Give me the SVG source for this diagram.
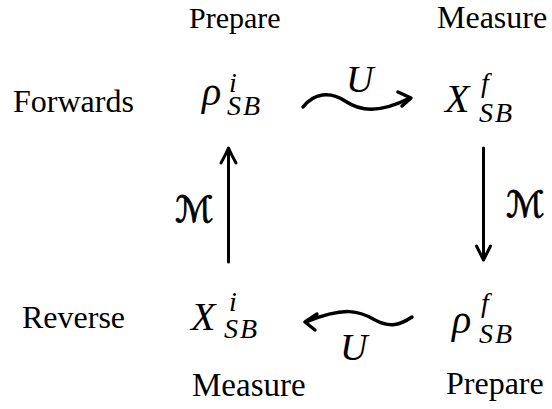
<svg xmlns="http://www.w3.org/2000/svg" width="552" height="409" viewBox="0 0 552 409">
<style>
.lbl{font-family:"Liberation Serif","Times New Roman",serif;fill:#000}
.mt{font-family:"Liberation Serif","Times New Roman",serif;font-style:italic;fill:#000}
.big{font-size:40px}
.sc{font-size:28px}
.cal{font-family:"DejaVu Serif","DejaVu Sans",serif;font-size:36px;fill:#000;stroke:#000;stroke-width:0.9}
.ln{stroke:#000;stroke-width:3;fill:none;stroke-linecap:round;stroke-linejoin:round}
.wv{stroke:#000;stroke-width:3.5;fill:none;stroke-linecap:round;stroke-linejoin:round}
</style>
<rect width="552" height="409" fill="#fff"/>
<g id="labels">
<text class="lbl" x="189" y="28" font-size="30">Prepare</text>
<text class="lbl" x="437" y="28" font-size="32">Measure</text>
<text class="lbl" x="13" y="112" font-size="32">Forwards</text>
<text class="lbl" x="22" y="328" font-size="32">Reverse</text>
<text class="lbl" x="192" y="396" font-size="33">Measure</text>
<text class="lbl" x="446" y="394" font-size="32">Prepare</text>
</g>
<g id="node-rho-i">
<text class="mt big" x="202" y="105">ρ</text>
<text class="mt sc" x="229" y="92">i</text>
<text class="mt sc" x="227" y="115" letter-spacing="2">SB</text>
</g>
<g id="node-X-f">
<text class="mt big" x="445" y="112">X</text>
<text class="mt sc" x="481" y="92">f</text>
<text class="mt sc" x="479" y="122" letter-spacing="2">SB</text>
</g>
<g id="node-X-i">
<text class="mt big" x="191" y="330">X</text>
<text class="mt sc" x="229" y="311">i</text>
<text class="mt sc" x="224" y="338" letter-spacing="2">SB</text>
</g>
<g id="node-rho-f">
<text class="mt big" x="452" y="333">ρ</text>
<text class="mt sc" x="481" y="312">f</text>
<text class="mt sc" x="479" y="343" letter-spacing="2">SB</text>
</g>
<g id="connectors">
<path class="wv" d="M303,107 C314,93 330,91 345,101 C360,111 378,114 410,98"/>
<path class="wv" d="M398,92 L411,98 L402,106"/>
<text class="mt" x="346" y="92" font-size="38">U</text>
<path class="wv" d="M412,317 C400,325 390,328 375,320 C360,311 345,306 306,322"/>
<path class="wv" d="M317,314 L305,322 L315,330"/>
<text class="mt" x="340" y="360" font-size="38">U</text>
<path class="ln" d="M228.5,262 L228.5,149"/>
<path class="ln" d="M221,163 Q225,156 228.5,148 Q232,156 236,163"/>
<text class="cal" x="175" y="222">ℳ</text>
<path class="ln" d="M483.5,148 L483.5,259"/>
<path class="ln" d="M476.5,246 Q480,253 483.5,260 Q487,253 490.5,246"/>
<text class="cal" x="506" y="217">ℳ</text>
</g>
</svg>
